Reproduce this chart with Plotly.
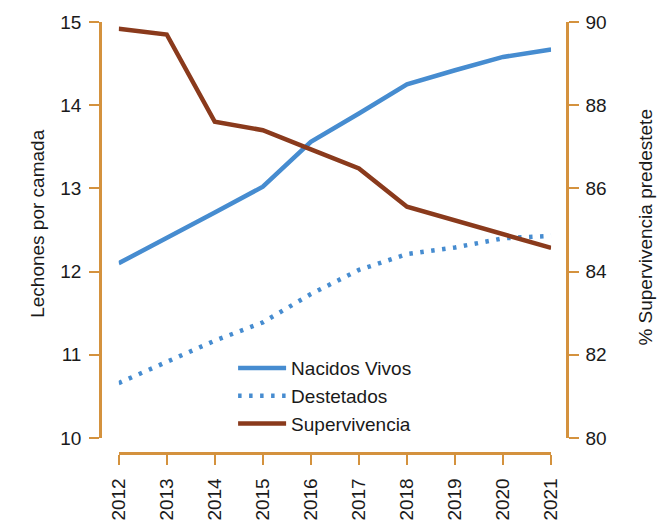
import plotly.graph_objects as go

years = [2012, 2013, 2014, 2015, 2016, 2017, 2018, 2019, 2020, 2021]
nacidos_vivos = [12.10, 12.40, 12.71, 13.02, 13.56, 13.90, 14.25, 14.42, 14.58, 14.67]
destetados = [10.66, 10.92, 11.17, 11.39, 11.73, 12.02, 12.21, 12.29, 12.40, 12.43]
supervivencia = [89.84, 89.70, 87.60, 87.40, 86.94, 86.48, 85.56, 85.23, 84.90, 84.57]

left_ticks = [10, 11, 12, 13, 14, 15]
right_ticks = [80, 82, 84, 86, 88, 90]

BLUE = "#468CD0"
BROWN = "#8A3A1C"
AXIS = "#D4923E"
TEXT = "#1a1a1a"
FONT = "Helvetica Neue, Liberation Sans, Arial, sans-serif"

fig = go.Figure()
fig.add_trace(go.Scatter(x=years, y=nacidos_vivos, name="Nacidos Vivos", mode="lines",
                         line=dict(color=BLUE, width=4.5), yaxis="y"))
fig.add_trace(go.Scatter(x=years, y=destetados, name="Destetados", mode="lines",
                         line=dict(color=BLUE, width=4.5, dash="3.5px,7.5px"), yaxis="y"))
fig.add_trace(go.Scatter(x=years, y=supervivencia, name="Supervivencia", mode="lines",
                         line=dict(color=BROWN, width=4.5), yaxis="y2"))

axis_common = dict(showline=True, linecolor=AXIS, linewidth=2.5, ticks="outside",
                   ticklen=10, tickwidth=2, tickcolor=AXIS, showgrid=False,
                   zeroline=False, automargin=False,
                   tickfont=dict(size=19, color=TEXT, family=FONT))

fig.update_layout(
    width=657, height=514,
    margin=dict(l=92, r=98, t=14, b=69, autoexpand=False),
    paper_bgcolor="white", plot_bgcolor="white",
    font=dict(family=FONT, color=TEXT),
    xaxis=dict(domain=[0.040, 0.966], range=[2012, 2021], anchor="free", position=0,
               tickvals=years, ticktext=[str(y) for y in years], tickangle=-90,
               ticklabelstandoff=6, **axis_common),
    yaxis=dict(domain=[0.0348, 1], range=[10, 15], anchor="free", position=0,
               side="left", tickvals=left_ticks, ticklabelstandoff=4, **axis_common),
    yaxis2=dict(range=[80, 90], overlaying="y", anchor="free", position=1,
                side="right", tickvals=right_ticks, ticklabelstandoff=3, **axis_common),
    legend=dict(x=0.285, y=0.241, xanchor="left", yanchor="top", itemwidth=48,
                bgcolor="rgba(0,0,0,0)", font=dict(size=19, color=TEXT, family=FONT),
                tracegroupgap=0),
    showlegend=True,
    annotations=[
        dict(text="Lechones por camada", xref="paper", yref="paper", x=-0.1356, y=0.531,
             textangle=-90, showarrow=False, font=dict(size=19, color=TEXT, family=FONT),
             xanchor="center", yanchor="middle"),
        dict(text="% Supervivencia predestete", xref="paper", yref="paper", x=1.168, y=0.524,
             textangle=-90, showarrow=False, font=dict(size=19, color=TEXT, family=FONT),
             xanchor="center", yanchor="middle"),
    ],
)

fig.write_html("out.html")
